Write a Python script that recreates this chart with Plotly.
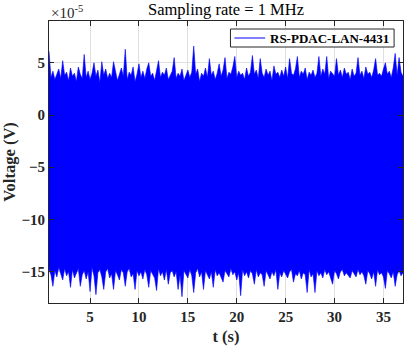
import plotly.graph_objects as go

# time base (s): uniformly sampled envelope points
T_START = 0.8
T_STEP = 0.2

# upper envelope of the signal (units of 1e-5 V)
upper = [
    6.1, 3.6, 4.2, 3.4, 3.9, 4.4, 3.5, 5.2, 3.8, 4.1,
    3.3, 4.5, 3.7, 4.0, 3.2, 4.6, 3.9, 3.5, 5.8, 3.6,
    4.2, 3.4, 4.0, 5.0, 3.7, 4.3, 3.1, 5.1, 3.8, 4.4,
    3.5, 4.0, 3.6, 5.1, 4.2, 3.3, 3.9, 4.5, 3.7, 6.3,
    3.4, 4.1, 3.8, 4.6, 3.2, 3.9, 4.9, 3.6, 4.2, 3.5,
    4.4, 5.0, 3.7, 4.0, 3.3, 4.3, 5.2, 3.6, 4.1, 3.8,
    4.5, 3.4, 3.9, 4.2, 5.5, 3.5, 4.0, 3.7, 4.4, 3.3,
    3.8, 4.3, 3.6, 4.1, 6.6, 3.9, 4.4, 3.2, 4.0, 3.7,
    4.5, 3.6, 5.4, 3.8, 4.2, 3.4, 4.0, 4.9, 3.7, 4.3,
    5.5, 3.5, 4.1, 3.9, 4.6, 5.6, 3.6, 4.2, 3.8, 4.0,
    3.4, 4.5, 3.7, 4.1, 5.7, 3.9, 4.3, 3.5, 5.4, 4.0,
    3.6, 4.4, 3.8, 4.2, 3.3, 4.7, 3.9, 4.1, 3.6, 4.3,
    3.7, 4.6, 3.5, 5.4, 4.0, 3.8, 4.4, 5.6, 3.6, 4.2,
    3.9, 4.5, 3.4, 4.1, 3.8, 4.3, 3.6, 4.0, 5.6, 3.7,
    4.4, 3.9, 5.6, 3.5, 4.2, 4.0, 3.7, 5.4, 3.8, 4.3,
    3.6, 4.5, 3.9, 4.1, 3.4, 4.4, 3.7, 4.0, 5.5, 3.8,
    4.2, 3.5, 4.6, 3.9, 4.1, 3.6, 4.3, 5.4, 3.8, 4.0,
    3.7, 4.4, 5.0, 3.9, 4.2, 3.6, 4.5, 5.9, 3.8, 5.5,
    4.1, 3.7,
]

# lower envelope of the signal (units of 1e-5 V)
lower = [
    -14.8, -15.3, -16.4, -14.9, -15.5, -14.6, -15.2, -15.8, -14.7, -15.4,
    -15.0, -16.5, -14.8, -15.6, -15.1, -14.7, -16.4, -15.3, -14.9, -15.7,
    -15.0, -16.9, -14.6, -15.4, -17.2, -15.1, -14.8, -15.5, -16.7, -15.0,
    -14.7, -15.6, -15.2, -16.7, -14.9, -15.3, -15.8, -14.8, -15.1, -16.4,
    -15.0, -14.7, -15.5, -15.2, -16.7, -14.9, -15.4, -15.0, -15.7, -14.8,
    -15.3, -16.5, -14.9, -15.2, -15.6, -16.8, -14.7, -15.4, -15.0, -15.8,
    -14.8, -16.2, -15.1, -14.9, -15.5, -15.0, -16.7, -15.3, -17.4, -14.9,
    -15.2, -15.6, -14.8, -15.4, -17.0, -15.1, -14.7, -15.5, -15.0, -16.7,
    -14.9, -15.3, -15.7, -15.0, -16.5, -14.8, -15.4, -15.1, -15.6, -16.0,
    -14.9, -15.2, -15.5, -14.7, -15.3, -15.0, -15.8, -15.1, -17.3, -14.8,
    -15.4, -15.0, -15.6, -14.9, -15.2, -16.2, -14.8, -15.5, -15.1, -15.3,
    -16.4, -14.9, -15.2, -15.7, -15.0, -15.4, -14.8, -16.7, -15.1, -15.5,
    -14.9, -15.3, -15.6, -15.0, -14.8, -16.0, -15.2, -15.4, -14.9, -15.7,
    -15.1, -15.3, -17.0, -14.8, -15.5, -15.2, -17.0, -14.9, -15.4, -15.1,
    -15.6, -14.8, -15.3, -15.0, -15.5, -16.2, -14.9, -15.2, -15.7, -15.0,
    -14.8, -15.4, -15.1, -15.3, -15.6, -14.9, -15.2, -15.5, -14.8, -15.3,
    -15.0, -15.4, -16.2, -14.9, -15.2, -15.7, -15.0, -16.4, -14.8, -15.3,
    -15.1, -15.5, -16.6, -14.9, -15.2, -15.6, -15.0, -16.4, -15.3, -14.9,
    -15.4, -15.1,
]

x_ticks = [5, 10, 15, 20, 25, 30, 35]
y_ticks = [-15, -10, -5, 0, 5]
x_range = [0.8, 37.0]
y_range = [-18, 9]
series_name = "RS-PDAC-LAN-4431"

t = [T_START + T_STEP * i for i in range(len(upper))]

FONT = "Liberation Serif"
BLUE = "#0000FF"
AX = "#262626"

fig = go.Figure()
fig.add_trace(go.Scatter(
    x=t + t[::-1], y=upper + lower[::-1],
    fill="toself", fillcolor=BLUE, mode="lines",
    line=dict(color=BLUE, width=0.6), name=series_name,
    showlegend=False, hoverinfo="skip",
))

axis_common = dict(
    showline=True, linecolor=AX, linewidth=1, mirror="ticks",
    ticks="inside", ticklen=5, tickcolor=AX,
    showgrid=True, gridcolor="#dfdfdf", gridwidth=1, zeroline=False,
    tickfont=dict(family=FONT, size=15, color=AX, weight="bold"),
)

# legend box drawn in paper coordinates (MATLAB-style)
LEG_BOX = dict(x0=0.5126, x1=0.9748, y0=0.9078, y1=0.9716)
LEG_LINE = dict(x0=0.5238, x1=0.6106, y=0.9397)

fig.update_layout(
    width=410, height=351,
    margin=dict(l=47, r=6, t=21, b=48),
    paper_bgcolor="white", plot_bgcolor="white",
    showlegend=False,
    title=dict(text="Sampling rate = 1 MHz", x=0.5, xanchor="center",
               xref="paper", y=0.975, yanchor="middle",
               font=dict(family=FONT, size=16.5, color="black")),
    xaxis=dict(range=x_range, tickvals=x_ticks,
               title=dict(text="t (s)", standoff=6,
                          font=dict(family=FONT, size=16.5, color=AX, weight="bold")),
               **axis_common),
    yaxis=dict(range=y_range, tickvals=y_ticks,
               title=dict(text="Voltage (V)", standoff=4,
                          font=dict(family=FONT, size=16.5, color=AX, weight="bold")),
               **axis_common),
    shapes=[
        dict(type="rect", xref="paper", yref="paper",
             x0=LEG_BOX["x0"], x1=LEG_BOX["x1"], y0=LEG_BOX["y0"], y1=LEG_BOX["y1"],
             fillcolor="white", line=dict(color=AX, width=1), layer="above"),
        dict(type="line", xref="paper", yref="paper",
             x0=LEG_LINE["x0"], x1=LEG_LINE["x1"], y0=LEG_LINE["y"], y1=LEG_LINE["y"],
             line=dict(color=BLUE, width=1), layer="above"),
    ],
    annotations=[
        dict(text="×10<sup>-5</sup>", xref="paper", yref="paper",
             x=0, y=1, xanchor="left", yanchor="bottom", yshift=-2,
             showarrow=False, font=dict(family=FONT, size=15, color=AX)),
        dict(text="<b>" + series_name + "</b>", xref="paper", yref="paper",
             x=0.619, y=LEG_LINE["y"], xanchor="left", yanchor="middle",
             showarrow=False, font=dict(family=FONT, size=13, color="black")),
    ],
)

fig.write_html("out.html")
